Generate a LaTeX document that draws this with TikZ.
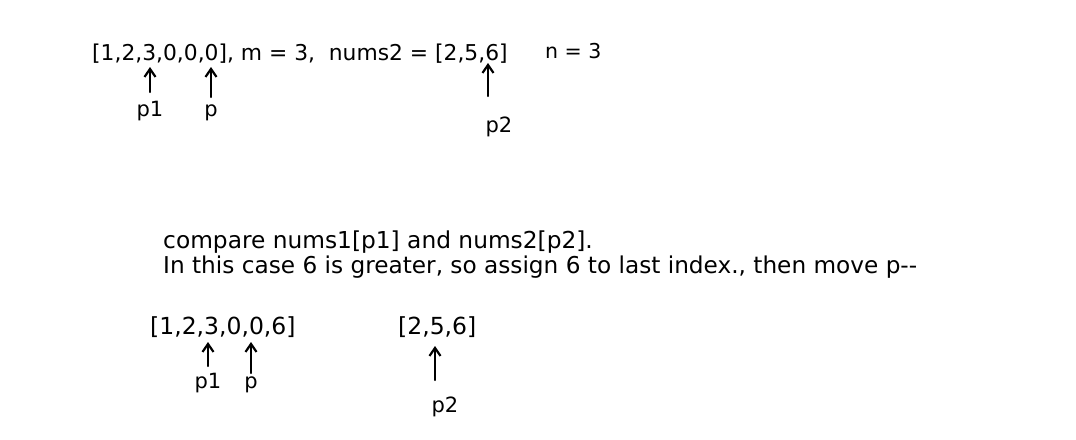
\documentclass[tikz,border=0pt]{standalone}
\usepackage{fontspec}
\setmainfont{DejaVu Sans}
\usetikzlibrary{arrows.meta}
\begin{document}
\begin{tikzpicture}[x=1pt,y=-1pt,
  txt/.style={inner sep=0pt,anchor=base west},
  lbl/.style={inner sep=0pt,anchor=base,font=\fontsize{21}{24}\selectfont},
  ptr/.style={-{Straight Barb[length=8pt,width=11pt]},line width=2.2pt,line cap=round}]
\useasboundingbox[fill=white] (0,0) rectangle (1076,439);
% top row
\node[txt,font=\fontsize{21.8}{24}\selectfont] (row1) at (92,60) {[1,2,3,0,0,0], m = 3,\ \ nums2 = [2,5,6]};
\node[txt,font=\fontsize{20.5}{24}\selectfont] (n) at (545,58) {n = 3};
\node[lbl] (p1a) at (150,116) {p1};
\node[lbl] (pa) at (211,116) {p};
\node[lbl] (p2a) at (499,132) {p2};
\coordinate (t1) at (150,67); \coordinate (s1) at (150,92);
\coordinate (t2) at (211,67); \coordinate (s2) at (211,97);
\coordinate (t3) at (488,63); \coordinate (s3) at (488,96);
\draw[ptr] (s1) -- (t1);
\draw[ptr] (s2) -- (t2);
\draw[ptr] (s3) -- (t3);
% explanation
\node[txt,font=\fontsize{23.3}{26}\selectfont] (c1) at (163,248) {compare nums1[p1] and nums2[p2].};
\node[txt,font=\fontsize{23.2}{26}\selectfont] (c2) at (163,273) {In this case 6 is greater, so assign 6 to last index., then move p-{}-};
% bottom row
\node[txt,font=\fontsize{23.5}{26}\selectfont] (arr1) at (150,334) {[1,2,3,0,0,6]};
\node[txt,font=\fontsize{23.5}{26}\selectfont] (arr2) at (398,334) {[2,5,6]};
\node[lbl] (p1b) at (208,388) {p1};
\node[lbl] (pb) at (251,388) {p};
\node[lbl] (p2b) at (445,412) {p2};
\coordinate (t4) at (208,342); \coordinate (s4) at (208,366);
\coordinate (t5) at (251,342); \coordinate (s5) at (251,373);
\coordinate (t6) at (435,346); \coordinate (s6) at (435,380);
\draw[ptr] (s4) -- (t4);
\draw[ptr] (s5) -- (t5);
\draw[ptr] (s6) -- (t6);
\end{tikzpicture}
\end{document}
